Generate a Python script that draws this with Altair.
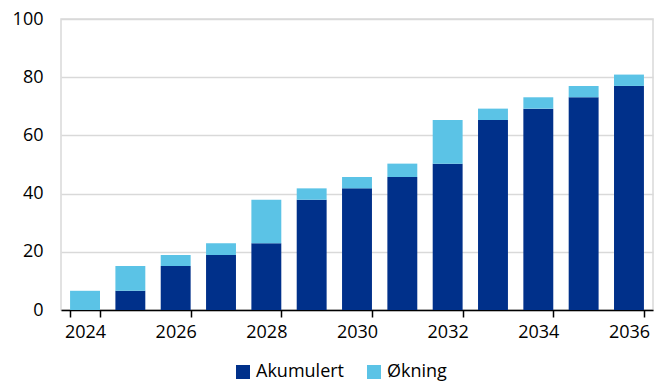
import altair as alt
import pandas as pd

years = [2024, 2025, 2026, 2027, 2028, 2029, 2030, 2031, 2032, 2033, 2034, 2035, 2036]
akumulert = [0.0, 6.6, 15.1, 18.9, 22.9, 37.9, 41.8, 45.7, 50.3, 65.3, 69.2, 73.1, 77.0]
okning = [6.6, 8.5, 3.8, 4.0, 15.0, 3.9, 3.9, 4.6, 15.0, 3.9, 3.9, 3.9, 3.9]
series = ["Akumulert", "Økning"]
colors = ["#00308A", "#5BC3E6"]
y_ticks = [0, 20, 40, 60, 80, 100]
x_labels = [2024, 2026, 2028, 2030, 2032, 2034, 2036]

rows = []
for yr, a, o in zip(years, akumulert, okning):
    rows.append({"year": yr, "series": series[0], "value": a, "order": 0})
    rows.append({"year": yr, "series": series[1], "value": o, "order": 1})
df = pd.DataFrame(rows)

font = "Open Sans"
pad_inner = 0.34
x_scale = alt.Scale(paddingInner=pad_inner, paddingOuter=0.2)

bars = alt.Chart(df).mark_bar().encode(
    x=alt.X(
        "year:O",
        scale=x_scale,
        axis=alt.Axis(
            title=None, labelAngle=0, values=x_labels,
            ticks=True, tickBand="extent", tickSize=7, tickColor="black", tickWidth=1.5,
            domainColor="black", domainWidth=1.5, labelFontSize=18,
            labelPadding=6, labelColor="black", labelFont=font,
        ),
    ),
    y=alt.Y(
        "value:Q",
        stack="zero",
        scale=alt.Scale(domain=[0, 100]),
        axis=alt.Axis(
            title=None, values=y_ticks, domain=False, ticks=False,
            gridColor="#d9d9d9", gridWidth=1.5, labelFontSize=18,
            labelPadding=18, labelColor="black", labelFont=font,
        ),
    ),
    color=alt.Color(
        "series:N",
        scale=alt.Scale(domain=series, range=colors),
        legend=alt.Legend(
            title=None, orient="none", legendX=173, legendY=344,
            direction="horizontal", symbolType="square", symbolSize=196,
            symbolStrokeWidth=0, labelFontSize=18, labelFont=font,
            labelColor="black", columnPadding=20, labelOffset=4,
        ),
    ),
    order=alt.Order("order:Q"),
)

chart = bars.properties(
    width=592,
    height=291,
    autosize=alt.AutoSizeParams(type="none"),
    padding={"left": 61, "top": 19, "right": 3, "bottom": 75},
).configure_view(stroke="#d9d9d9", strokeWidth=1.5)

chart.save("out.html", embed_options={"renderer": "svg", "actions": False})
